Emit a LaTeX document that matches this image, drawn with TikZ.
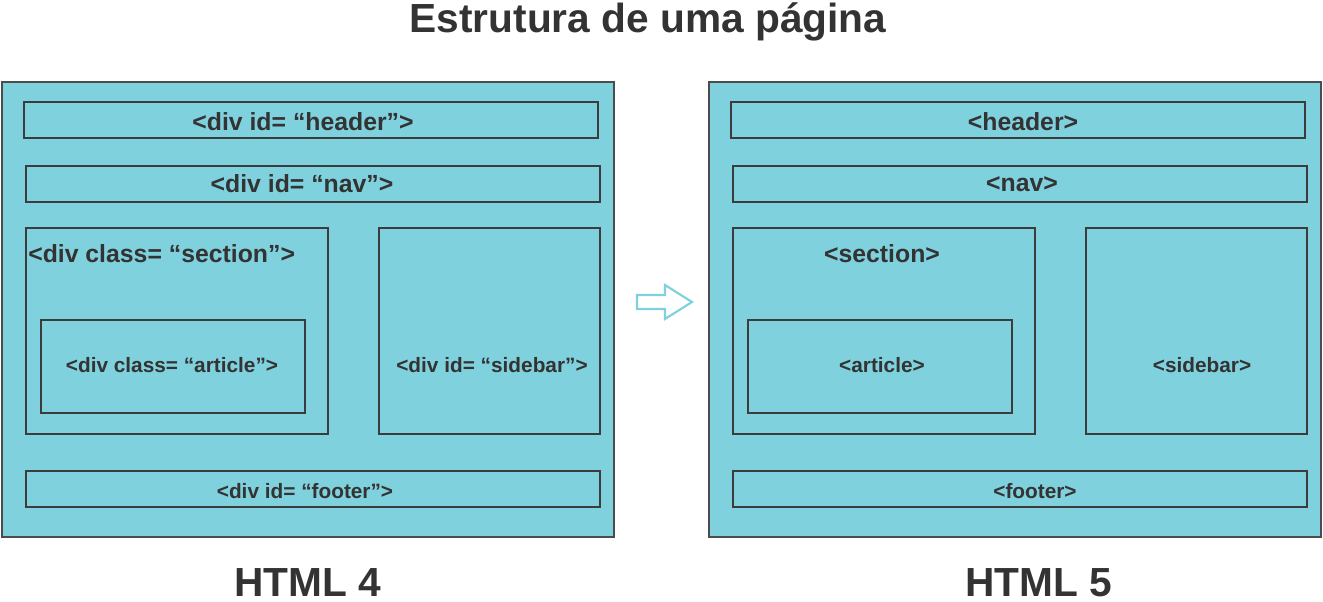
\documentclass[tikz,border=0pt]{standalone}
\usepackage{fontspec}
\setmainfont{Liberation Sans}
\usetikzlibrary{calc}
\definecolor{boxfill}{HTML}{7FD1DE}
\definecolor{inkgray}{HTML}{333333}
\definecolor{framegray}{HTML}{3C3C3C}

\begin{document}
\begin{tikzpicture}[x=0.75pt, y=-0.75pt, text=inkgray,
		pane/.style={draw=framegray!92, fill=boxfill, line width=2.2pt},
		block/.style={draw=framegray, line width=2.2pt},
		tagbig/.style={font=\fontsize{18.6}{20}\selectfont\bfseries},
		tagsmall/.style={font=\fontsize{15.6}{17}\selectfont\bfseries},
		heading/.style={font=\fontsize{30.5}{32}\selectfont\bfseries, anchor=base, inner sep=0pt}]
		\useasboundingbox (0,0) rectangle (1323,602);
		% title
		\node[heading] (title) at (648,33) {Estrutura de uma página};
		% both page frames share one block layout
		\foreach \dx/\s in {0/L,707/R} {
			\begin{scope}[shift={(\dx,0)}]
				\draw[pane] (2,82) rectangle (614,537);
				\draw[block] (24,102) rectangle (598,138);
				\draw[block] (26,166) rectangle (600,202);
				\draw[block] (26,228) rectangle (328,434);
				\draw[block] (41,320) rectangle (305,413);
				\draw[block] (379,228) rectangle (600,434);
				\draw[block] (26,471) rectangle (600,507);
			\end{scope}
		}
		% HTML 4 labels
		\node[tagbig] (Lhead) at (303,122) {<div id= “header”>};
		\node[tagbig] (Lnav) at (302,184) {<div id= “nav”>};
		\node[tagbig, anchor=west, inner sep=0pt] (Lsec) at (28,254) {<div class= “section”>};
		\node[tagsmall] (Lart) at (172,365) {<div class= “article”>};
		\node[tagsmall] (Lside) at (492,365) {<div id= “sidebar”>};
		\node[tagsmall] (Lfoot) at (305,491) {<div id= “footer”>};
		% HTML 5 labels
		\node[tagbig] (Rhead) at (1023,122) {<header>};
		\node[tagbig] (Rnav) at (1022,184) {<nav>};
		\node[tagbig] (Rsec) at (882,254) {<section>};
		\node[tagsmall] (Rart) at (882,365) {<article>};
		\node[tagsmall] (Rside) at (1202,365) {<sidebar>};
		\node[tagsmall] (Rfoot) at (1035,491) {<footer>};
		% hollow arrow between the pages
		\draw[boxfill, fill=white, line width=1.6pt, line join=miter]
			(637,295) -- (665,295) -- (665,285) -- (692,302) -- (665,319) -- (665,309) -- (637,309) -- cycle;
		% captions
		\node[heading] (cap4) at (308,596) {HTML 4};
		\node[heading] (cap5) at (1039,596) {HTML 5};
	\end{tikzpicture}
\end{document}
